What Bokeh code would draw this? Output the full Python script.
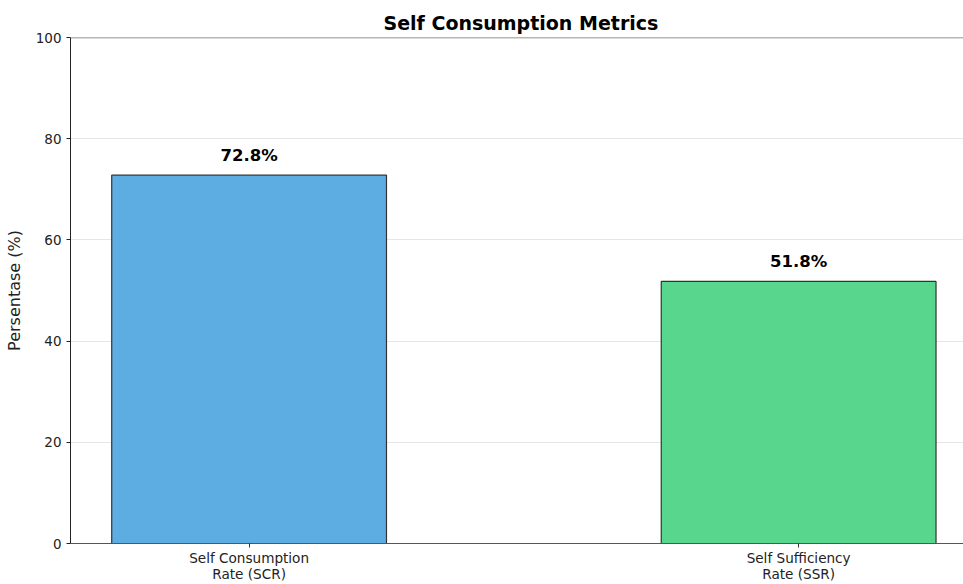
from bokeh.plotting import figure
from bokeh.models import ColumnDataSource, FixedTicker, Range1d, Span
from bokeh.embed import file_html
from bokeh.resources import INLINE
from bokeh.core.properties import value

categories = ["Self Consumption\nRate (SCR)", "Self Sufficiency\nRate (SSR)"]
values = [72.8, 51.8]
colors = ["#5DADE2", "#58D68D"]
yticks = [0, 20, 40, 60, 80, 100]

xs = list(range(len(categories)))
src = ColumnDataSource(dict(
    x=xs, top=values, color=colors,
    label=[f"{v:.1f}%" for v in values],
    ly=[v + 2 for v in values],
))

FONT = "DejaVu Sans"
p = figure(width=963, height=584, output_backend="svg", toolbar_location=None,
           x_range=Range1d(-0.325, 1.3), y_range=Range1d(0, 100),
           min_border_left=70, min_border_right=0, min_border_top=37, min_border_bottom=41)
p.outline_line_color = None
p.background_fill_color = "white"

p.vbar(x="x", top="top", width=0.5, bottom=0, fill_color="color", line_color="#333333",
       line_width=1.2, source=src)
p.text(x="x", y="ly", text="label", source=src, text_align="center", text_baseline="bottom",
       text_font=value(FONT), text_font_style="bold", text_font_size="16.5px", text_color="black")

p.add_layout(Span(location=100, dimension="width", line_color="#6e6e6e", line_width=1.5))

p.title.text = "Self Consumption Metrics"
p.title.align = "left"
p.title.offset = 313
p.title.text_font = FONT
p.title.text_font_size = "19px"
p.title.text_font_style = "bold"
p.title.text_color = "black"
p.title.standoff = 8

p.xaxis.ticker = FixedTicker(ticks=xs)
p.xaxis.major_label_overrides = {i: c for i, c in enumerate(categories)}
p.xaxis.major_label_text_font = FONT
p.xaxis.major_label_text_font_size = "13.6px"
p.xaxis.major_label_text_line_height = 1.0
p.xaxis.major_label_text_color = "#222222"
p.xaxis.minor_tick_line_color = None
p.xaxis.axis_line_color = "#555555"
p.xaxis.major_tick_line_color = "#333333"
p.xaxis.major_tick_out = 4
p.xaxis.major_tick_in = 0
p.xaxis.major_label_standoff = 2

p.yaxis.ticker = FixedTicker(ticks=yticks)
p.yaxis.major_label_text_font = FONT
p.yaxis.major_label_text_font_size = "13.5px"
p.yaxis.major_label_text_color = "#222222"
p.yaxis.minor_tick_line_color = None
p.yaxis.axis_line_color = "#222222"
p.yaxis.major_tick_line_color = "#222222"
p.yaxis.major_tick_out = 4
p.yaxis.major_tick_in = 0
p.yaxis.major_label_standoff = 5
p.yaxis.axis_label = "Persentase (%)"
p.yaxis.axis_label_text_font = FONT
p.yaxis.axis_label_text_font_size = "16px"
p.yaxis.axis_label_text_font_style = "normal"
p.yaxis.axis_label_text_color = "#222222"
p.yaxis.axis_label_standoff = 9

p.xgrid.grid_line_color = None
p.ygrid.ticker = FixedTicker(ticks=[20, 40, 60, 80])
p.ygrid.grid_line_color = "#e6e6e6"
p.ygrid.grid_line_width = 1

open("out.html", "w").write(file_html(p, INLINE))
